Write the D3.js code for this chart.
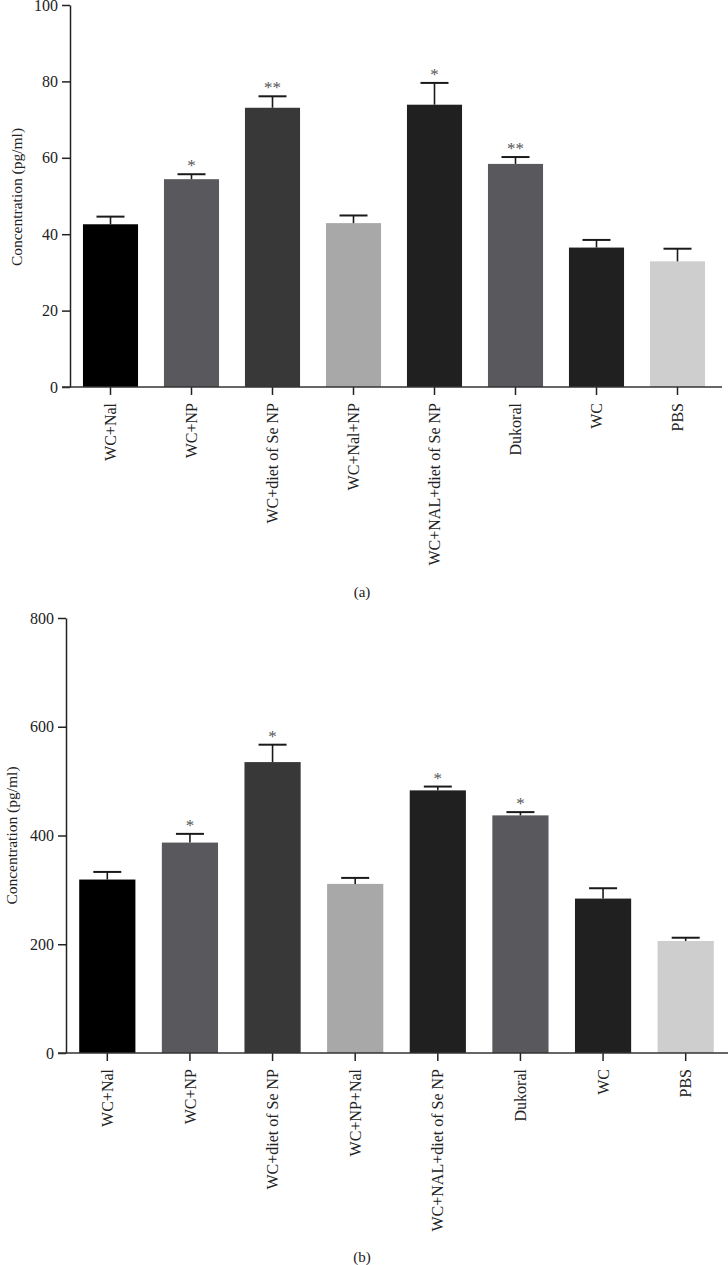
<!DOCTYPE html>
<html>
<head>
<meta charset="utf-8">
<script src="https://cdn.jsdelivr.net/npm/d3@7"></script>
<style>
  html, body { margin: 0; padding: 0; background: #fff; }
  svg { display: block; }
  text { font-family: "Liberation Serif", "DejaVu Serif", serif; fill: #222; }
</style>
</head>
<body>
<svg id="chart" width="728" height="1265"></svg>
<script>
// ---------- Data ----------
const categoriesA = ["WC+Nal", "WC+NP", "WC+diet of Se NP", "WC+Nal+NP", "WC+NAL+diet of Se NP", "Dukoral", "WC", "PBS"];
const valuesA = [42.6, 54.4, 73.1, 42.9, 73.9, 58.4, 36.5, 32.9];
const errorTopA = [44.6, 55.7, 76.1, 44.9, 79.6, 60.2, 38.5, 36.2];
const sigA = ["", "*", "**", "", "*", "**", "", ""];
const ticksA = [0, 20, 40, 60, 80, 100];

const categoriesB = ["WC+Nal", "WC+NP", "WC+diet of Se NP", "WC+NP+Nal", "WC+NAL+diet of Se NP", "Dukoral", "WC", "PBS"];
const valuesB = [319, 387, 535, 311, 483, 437, 284, 206];
const errorTopB = [333, 403, 567, 322, 490, 443, 303, 212];
const sigB = ["", "*", "*", "", "*", "*", "", ""];
const ticksB = [0, 200, 400, 600, 800];

const barColors = ["#000000", "#58585d", "#373837", "#a8a8a8", "#202020", "#58585d", "#202020", "#cecece"];

const yLabel = "Concentration (pg/ml)";

// ---------- Drawing ----------
const svg = d3.select("#chart");

function drawChart(cfg) {
  const g = svg.append("g");
  const x = d3.scaleBand().domain(cfg.categories).range([cfg.left, cfg.right]).paddingInner(0.32).paddingOuter(0.16);
  const y = d3.scaleLinear().domain([0, cfg.max]).range([cfg.bottom, cfg.top]);

  // bars
  g.selectAll("rect.bar").data(cfg.values).enter().append("rect")
    .attr("class", "bar")
    .attr("x", (d, i) => x(cfg.categories[i]))
    .attr("width", x.bandwidth())
    .attr("y", d => y(d))
    .attr("height", d => y(0) - y(d))
    .attr("fill", (d, i) => barColors[i]);

  // error bars (upper only)
  const capW = 28;
  const eg = g.selectAll("g.err").data(cfg.errTop).enter().append("g").attr("class", "err");
  eg.append("line")
    .attr("x1", (d, i) => x(cfg.categories[i]) + x.bandwidth() / 2)
    .attr("x2", (d, i) => x(cfg.categories[i]) + x.bandwidth() / 2)
    .attr("y1", (d, i) => y(cfg.values[i]))
    .attr("y2", d => y(d))
    .attr("stroke", "#1a1a1a").attr("stroke-width", 1.6);
  eg.append("line")
    .attr("x1", (d, i) => x(cfg.categories[i]) + x.bandwidth() / 2 - capW / 2)
    .attr("x2", (d, i) => x(cfg.categories[i]) + x.bandwidth() / 2 + capW / 2)
    .attr("y1", d => y(d))
    .attr("y2", d => y(d))
    .attr("stroke", "#1a1a1a").attr("stroke-width", 2);

  // significance stars
  g.selectAll("text.sig").data(cfg.sig).enter().append("text")
    .attr("class", "sig")
    .attr("x", (d, i) => x(cfg.categories[i]) + x.bandwidth() / 2)
    .attr("y", (d, i) => y(cfg.errTop[i]) - 3)
    .attr("text-anchor", "middle")
    .style("font-family", "Liberation Serif, serif")
    .style("font-size", "17px")
    .style("fill", "#555")
    .text(d => d);

  // y axis
  const ya = g.append("g")
    .attr("transform", `translate(${cfg.left},0)`)
    .call(d3.axisLeft(y).tickValues(cfg.ticks).tickSize(8).tickSizeOuter(0).tickPadding(4));
  ya.select(".domain").attr("stroke", "#222").attr("stroke-width", 1.5);
  ya.selectAll(".tick line").attr("stroke", "#222").attr("stroke-width", 1.5);
  ya.selectAll(".tick text")
    .style("font-family", "Liberation Serif, serif")
    .style("font-size", "16px").style("fill", "#222");

  // x axis
  const xa = g.append("g")
    .attr("transform", `translate(0,${cfg.bottom})`)
    .call(d3.axisBottom(x).tickSize(8).tickSizeOuter(0).tickPadding(0));
  xa.select(".domain").remove();
  xa.append("line")
    .attr("x1", cfg.left - 8).attr("x2", cfg.axisEnd)
    .attr("y1", 0).attr("y2", 0)
    .attr("stroke", "#333").attr("stroke-width", 1.5);
  xa.selectAll(".tick line").attr("stroke", "#222").attr("stroke-width", 1.5);
  xa.selectAll(".tick text")
    .attr("transform", "rotate(-90)")
    .attr("text-anchor", "end")
    .attr("x", -16)
    .attr("y", 0)
    .attr("dy", "0.35em")
    .style("font-family", "Liberation Serif, serif")
    .style("font-size", "16px").style("fill", "#222");

  // y label
  g.append("text")
    .attr("transform", `translate(${cfg.ylabelX},${(cfg.top + cfg.bottom) / 2 + cfg.ylabelShift}) rotate(-90)`)
    .attr("text-anchor", "middle")
    .attr("dy", "0.35em")
    .style("font-size", "15.5px")
    .text(yLabel);

  // caption
  g.append("text")
    .attr("x", cfg.capX).attr("y", cfg.capY)
    .attr("text-anchor", "middle")
    .attr("dy", "0.35em")
    .style("font-size", "15px")
    .text(cfg.caption);
}

drawChart({
  categories: categoriesA, values: valuesA, errTop: errorTopA, sig: sigA, ticks: ticksA,
  max: 100, left: 70, right: 718, top: 5, bottom: 387, axisEnd: 722,
  ylabelX: 17, ylabelShift: 1, caption: "(a)", capX: 362, capY: 592
});

drawChart({
  categories: categoriesB, values: valuesB, errTop: errorTopB, sig: sigB, ticks: ticksB,
  max: 800, left: 66, right: 727, top: 618, bottom: 1053, axisEnd: 728,
  ylabelX: 12, ylabelShift: 0, caption: "(b)", capX: 362, capY: 1257
});
</script>
</body>
</html>
